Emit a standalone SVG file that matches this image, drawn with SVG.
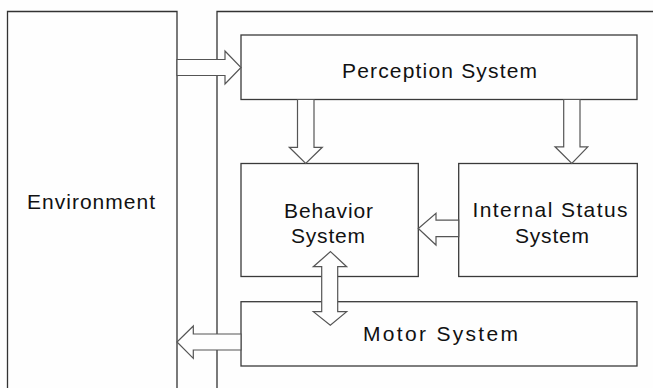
<svg xmlns="http://www.w3.org/2000/svg" width="653" height="388" viewBox="0 0 653 388">
<style>
.box{fill:none;stroke:#3a3a3a;stroke-width:1.3}
.wall{fill:none;stroke:#333;stroke-width:1.3}
.arr{fill:#fefefe;stroke:#555;stroke-width:1.2;stroke-linejoin:miter}
text{font-family:"Liberation Sans",Arial,sans-serif;font-size:21px;fill:#111;text-anchor:middle}
</style>
<rect x="0" y="0" width="653" height="388" fill="#fefefe"/>
<g id="environment">
<path class="wall" d="M7.5,392 V11.5 H177 V392"/>
<text x="91" y="208.5" textLength="128" lengthAdjust="spacing">Environment</text>
</g>
<g id="system-frame">
<path class="wall" d="M217,392 V11.5 H660"/>
</g>
<g id="perception">
<rect class="box" x="241" y="35" width="396" height="64.5"/>
<text x="439.5" y="77.5" textLength="195" lengthAdjust="spacing">Perception System</text>
</g>
<g id="behavior">
<rect class="box" x="241" y="163.5" width="177.3" height="113"/>
<text x="328.5" y="217.5" textLength="89" lengthAdjust="spacing">Behavior</text>
<text x="328" y="242.5" textLength="74" lengthAdjust="spacing">System</text>
</g>
<g id="internal">
<rect class="box" x="458.7" y="163.5" width="178.6" height="113"/>
<text x="550" y="216.5" textLength="155" lengthAdjust="spacing">Internal Status</text>
<text x="552" y="242.5" textLength="74" lengthAdjust="spacing">System</text>
</g>
<g id="motor">
<rect class="box" x="241" y="301.7" width="396" height="64.3"/>
<text x="440.5" y="340.5" textLength="155" lengthAdjust="spacing">Motor System</text>
</g>
<g id="connectors">
<polygon class="arr" points="177,59.5 225,59.5 225,51 241,67.5 225,84 225,75.5 177,75.5"/>
<polygon class="arr" points="297.5,99.5 314,99.5 314,147.3 322.3,147.3 305.7,163.5 289.3,147.3 297.5,147.3"/>
<polygon class="arr" points="563.7,99.5 580,99.5 580,146.8 587.8,146.8 571.8,163.5 555,146.8 563.7,146.8"/>
<polygon class="arr" points="458.7,220.2 436,220.2 436,213.3 418.3,228.5 436,245 436,236.7 458.7,236.7"/>
<polygon class="arr" points="330.5,251.6 346.7,266.7 337.7,266.7 337.7,311.7 346.7,311.7 330.3,325.3 313.3,311.7 321.7,311.7 321.7,266.7 313.3,266.7"/>
<polygon class="arr" points="241,334 193.3,334 193.3,326 177,342 193.3,358.3 193.3,350 241,350"/>
</g>
</svg>
